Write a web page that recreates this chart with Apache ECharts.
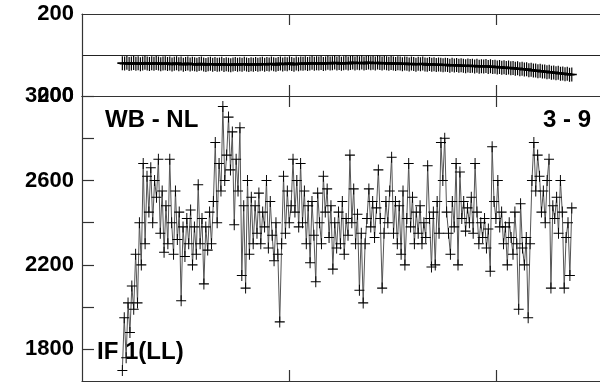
<!DOCTYPE html>
<html>
<head>
<meta charset="utf-8">
<script src="https://cdn.jsdelivr.net/npm/echarts@6/dist/echarts.min.js"></script>
<style>html,body{margin:0;padding:0;background:#fff}#c{width:600px;height:385px}</style>
</head>
<body>
<div id="c"></div>
<script>
// x domain (ticks at 1 and 2)
const xStart = 0.195, xEnd = 2.367;
const xTicks = [1, 2];
// top panel (phase-like) values
const topValues = [
-40,-42,-38,-44,-41,-39,-43,-40,-45,-41,-38,-42,-44,-40,-43,-39,-41,-45,-42,-40,
-44,-41,-46,-43,-40,-45,-42,-47,-44,-41,-46,-43,-45,-48,-44,-42,-46,-49,-45,-43,
-47,-44,-48,-46,-43,-49,-45,-47,-50,-46,-44,-48,-45,-47,-43,-46,-49,-45,-47,-44,
-48,-45,-43,-47,-44,-46,-42,-45,-48,-44,-41,-46,-43,-45,-40,-44,-47,-42,-45,-41,
-43,-40,-44,-41,-38,-43,-40,-42,-39,-44,-41,-38,-42,-40,-37,-41,-39,-43,-40,-38,
-42,-39,-36,-41,-38,-40,-37,-42,-39,-36,-40,-38,-41,-37,-39,-42,-38,-40,-43,-39,
-41,-44,-40,-42,-45,-41,-43,-46,-42,-44,-47,-43,-45,-42,-46,-48,-44,-47,-45,-49,
-46,-48,-50,-47,-49,-52,-48,-51,-49,-53,-50,-52,-55,-51,-54,-52,-56,-53,-57,-55,
-56,-54,-58,-55,-59,-57,-61,-58,-62,-60,-64,-61,-65,-63,-67,-65,-69,-67,-71,-69,
-74,-72,-76,-75,-79,-77,-81,-80,-84,-82,-86,-85,-89,-87,-91,-90,-94,-92,-96,-95
];
const topTickLabels = [-200, 200];
// bottom panel amplitude values
const bottomValues = [
1700,1950,1760,2020,1880, 2100,1990,2250,2020,2400, 2200,2680,2300,2620,2450,
2660,2400,2600,2520,2700, 2350,2550,2260,2480,2300, 2700,2400,2250,2550,2320,
2450,2030,2380,2240,2420, 2300,2460,2200,2380,2250, 2580,2300,2420,2110,2380,
2270,2450,2300,2500,2780, 2400,2680,2550,2950,2600, 2720,2900,2650,2830,2390,
2700,2550,2850,2150,2480, 2090,2600,2250,2520,2300, 2480,2350,2540,2300,2450,
2380,2600,2280,2500,2340, 2220,2400,2250,1930,2300, 2620,2350,2550,2400,2480,
2700,2450,2600,2380,2680, 2400,2550,2300,2480,2210, 2500,2340,2120,2540,2400,
2300,2620,2450,2560,2330, 2480,2180,2400,2280,2450, 2300,2500,2250,2420,2340,
2720,2400,2560,2300,2440, 2080,2350,2020,2300,2420, 2560,2380,2500,2330,2470,
2650,2420,2090,2350,2500, 2400,2550,2710,2350,2500, 2300,2480,2250,2550,2200,
2420,2680,2380,2520,2300, 2450,2350,2480,2300,2400, 2330,2670,2420,2190,2450,
2200,2500,2350,2780,2600, 2800,2450,2350,2250,2500, 2380,2680,2200,2640,2420,
2500,2360,2470,2400,2520, 2350,2680,2450,2300,2400, 2330,2420,2280,2370,2170,
2760,2500,2420,2600,2380, 2450,2300,2380,2200,2400, 2330,2250,2450,2300,1990,
2490,2280,2200,2330,1950, 2300,2600,2780,2550,2720, 2620,2450,2550,2400,2600,
2700,2090,2480,2420,2520, 2350,2600,2450,2090,2330, 2400,2150,2470
];
const bottomTickLabels = [1800, 2200, 2600, 3000];
const bottomMinorTicks = [1800, 2000, 2200, 2400, 2600, 2800, 3000];
const annotations = ['WB - NL', '3 - 9', 'IF 1(LL)'];

function withX(vals) {
  const n = vals.length;
  return vals.map((v, i) => [xStart + (xEnd - xStart) * i / (n - 1), v]);
}

const FONT = '"Liberation Sans", Arial, sans-serif';
const axisCol = '#333';
const lbl = { fontFamily: FONT, fontWeight: 'bold', fontSize: 22, color: '#000', margin: 8 };
const cross = 'path://M0,5L10,5M5,0L5,10';

function xAx(gi, pos) {
  return {
    type: 'value', gridIndex: gi, position: pos, min: 0, max: 2.6,
    axisLine: { show: true, onZero: false, lineStyle: { color: axisCol, width: 1.2 } },
    axisTick: { show: true, inside: true, length: 11, customValues: xTicks, lineStyle: { color: axisCol, width: 1.2 } },
    axisLabel: { show: false }, splitLine: { show: false }
  };
}

const chart = echarts.init(document.getElementById('c'), null, { renderer: 'canvas' });
chart.setOption({
  animation: false,
  backgroundColor: '#fff',
  grid: [
    { left: 82, top: 14, width: 538, height: 82, outerBoundsMode: 'none', containLabel: false },
    { left: 82, top: 96, width: 538, height: 285, outerBoundsMode: 'none', containLabel: false }
  ],
  xAxis: [xAx(0, 'bottom'), xAx(0, 'top'), xAx(1, 'bottom'), xAx(1, 'top')],
  yAxis: [
    {
      type: 'value', gridIndex: 0, min: -200, max: 200, interval: 200,
      axisLine: { show: true, lineStyle: { color: axisCol, width: 1.2 } },
      axisTick: { show: false },
      axisLabel: Object.assign({}, lbl, { customValues: topTickLabels, formatter: v => String(Math.abs(v)) }),
      splitLine: { show: true, lineStyle: { color: '#222', width: 1 } }
    },
    {
      type: 'value', gridIndex: 1, min: 1650, max: 3000,
      axisLine: { show: true, lineStyle: { color: axisCol, width: 1.2 } },
      axisTick: { show: true, inside: true, length: 12, customValues: bottomMinorTicks, lineStyle: { color: axisCol, width: 1.2 } },
      axisLabel: Object.assign({}, lbl, { customValues: bottomTickLabels, formatter: v => String(v) }),
      splitLine: { show: false }
    }
  ],
  series: [
    {
      type: 'line', xAxisIndex: 0, yAxisIndex: 0, data: withX(topValues),
      symbol: cross, symbolSize: [10, 14], showAllSymbol: true,
      itemStyle: { color: 'transparent', borderColor: '#000', borderWidth: 1.4 },
      lineStyle: { color: '#111', width: 2 }, silent: true
    },
    {
      type: 'line', xAxisIndex: 2, yAxisIndex: 1, data: withX(bottomValues),
      symbol: cross, symbolSize: [10, 11], showAllSymbol: true,
      itemStyle: { color: 'transparent', borderColor: '#000', borderWidth: 1 },
      lineStyle: { color: '#555', width: 1 }, silent: true
    }
  ],
  graphic: [
    { type: 'text', left: 105, top: 108, style: { text: annotations[0], font: 'bold 24px ' + FONT, fill: '#000' } },
    { type: 'text', left: 543, top: 108, style: { text: annotations[1], font: 'bold 24px ' + FONT, fill: '#000' } },
    { type: 'text', left: 97, top: 340, style: { text: annotations[2], font: 'bold 24px ' + FONT, fill: '#000' } }
  ]
});
</script>
</body>
</html>
